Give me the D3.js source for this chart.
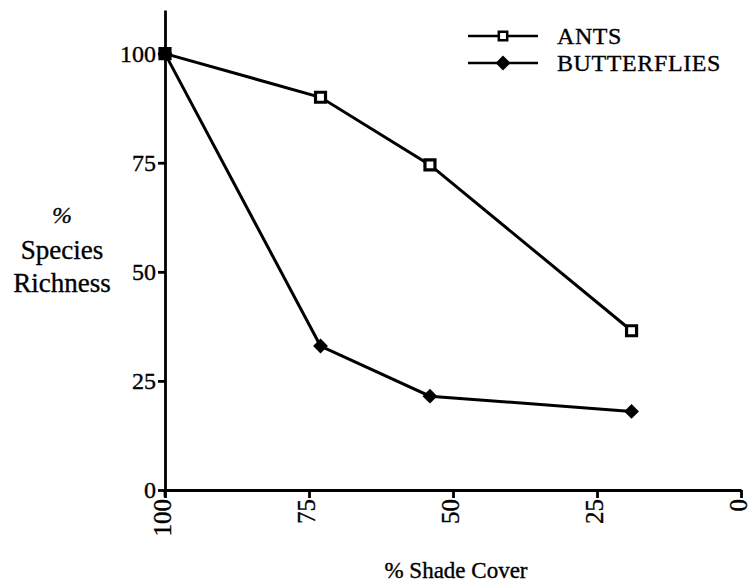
<!DOCTYPE html>
<html>
<head>
<meta charset="utf-8">
<script src="https://cdn.jsdelivr.net/npm/d3@7"></script>
<style>
  body { margin: 0; background: #fff; }
</style>
</head>
<body>
<script>
// shade cover levels (x) and % species richness for each group
var shade = [100, 73, 54, 19];
var ants = [100, 90, 74.5, 36.5];
var butterflies = [100, 33, 21.5, 18];
var yTicks = [0, 25, 50, 75, 100];
var xTicks = [100, 75, 50, 25, 0];

var serif = "'Liberation Serif', 'DejaVu Serif', serif";

var svg = d3.select("body")
	.append("svg")
	.attr("width", 753)
	.attr("height", 586);

var x = d3.scaleLinear().domain([100, 0]).range([165, 741]);
var y = d3.scaleLinear().domain([0, 110]).range([490, 10]);

// axes
var yAxis = svg.append("g")
	.attr("transform", "translate(165,0)")
	.call(d3.axisLeft(y).tickValues(yTicks).tickSize(7).tickSizeOuter(0).tickPadding(2));
yAxis.attr("font-family", null);
yAxis.selectAll("text").style("font-size", "24px");

var xAxis = svg.append("g")
	.attr("transform", "translate(0,490)")
	.call(d3.axisBottom(x).tickValues(xTicks).tickSize(8).tickSizeOuter(0));
xAxis.attr("font-family", null);
xAxis.selectAll("text")
	.style("font-size", "25px")
	.attr("transform", "rotate(-90)")
	.attr("text-anchor", "end")
	.attr("x", -9)
	.attr("y", 0)
	.attr("dy", "0.22em");

svg.selectAll(".domain, .tick line")
	.attr("stroke", "#000")
	.attr("stroke-width", 2.8);

// little cross at origin
svg.append("line")
	.attr("x1", 165).attr("x2", 165)
	.attr("y1", 490).attr("y2", 497)
	.attr("stroke", "#000").attr("stroke-width", 2.8);

// axis titles
svg.append("text")
	.attr("x", 456).attr("y", 578)
	.attr("text-anchor", "middle")
	.style("font-size", "23px")
	.text("% Shade Cover");

var ylab = svg.append("text")
	.attr("text-anchor", "middle")
	.style("font-size", "27px");
ylab.append("tspan").attr("x", 62).attr("y", 223).style("font-style", "italic").style("font-size", "24px").text("%");
ylab.append("tspan").attr("x", 62).attr("y", 259).text("Species");
ylab.append("tspan").attr("x", 62).attr("y", 292).text("Richness");

var line = d3.line()
	.x(function(d) { return x(d[0]); })
	.y(function(d) { return y(d[1]); });

var antsData = shade.map(function(s, i) { return [s, ants[i]]; });
var butData = shade.map(function(s, i) { return [s, butterflies[i]]; });

svg.append("path")
	.attr("d", line(antsData))
	.attr("fill", "none")
	.attr("stroke", "#000")
	.attr("stroke-width", 3);

svg.append("path")
	.attr("d", line(butData))
	.attr("fill", "none")
	.attr("stroke", "#000")
	.attr("stroke-width", 3);

var square = d3.symbol().type(d3.symbolSquare).size(100);
var diamond = d3.symbol().type(d3.symbolSquare).size(110);

svg.selectAll(".ant")
	.data(antsData)
	.enter()
	.append("path")
	.attr("class", "ant")
	.attr("d", square)
	.attr("transform", function(d) { return "translate(" + x(d[0]) + "," + y(d[1]) + ")"; })
	.attr("fill", "#fff")
	.attr("stroke", "#000")
	.attr("stroke-width", 3.2);

svg.selectAll(".but")
	.data(butData)
	.enter()
	.append("path")
	.attr("class", "but")
	.attr("d", diamond)
	.attr("transform", function(d) { return "translate(" + x(d[0]) + "," + y(d[1]) + ") rotate(45)"; })
	.attr("fill", "#000");

// legend
var legend = [
	{name: "ANTS", sym: d3.symbol().type(d3.symbolSquare).size(70), fill: "#fff", rot: 0, y: 36},
	{name: "BUTTERFLIES", sym: diamond, fill: "#000", rot: 45, y: 63}
];

legend.forEach(function(l) {
	svg.append("line")
		.attr("x1", 468).attr("x2", 538)
		.attr("y1", l.y).attr("y2", l.y)
		.attr("stroke", "#000").attr("stroke-width", 2.5);
	svg.append("path")
		.attr("d", l.sym)
		.attr("transform", "translate(503," + l.y + ") rotate(" + l.rot + ")")
		.attr("fill", l.fill)
		.attr("stroke", "#000")
		.attr("stroke-width", l.fill == "#fff" ? 2.5 : 0);
	svg.append("text")
		.attr("x", 557).attr("y", l.y + 8)
		.style("font-size", "24px")
		.style("letter-spacing", "0.6px")
		.text(l.name);
});

// all text in a Times-like face, slightly heavy like the printed original
svg.selectAll("text")
	.style("font-family", serif)
	.style("fill", "#000")
	.style("stroke", "#000")
	.style("stroke-width", "0.35px");
</script>
</body>
</html>
